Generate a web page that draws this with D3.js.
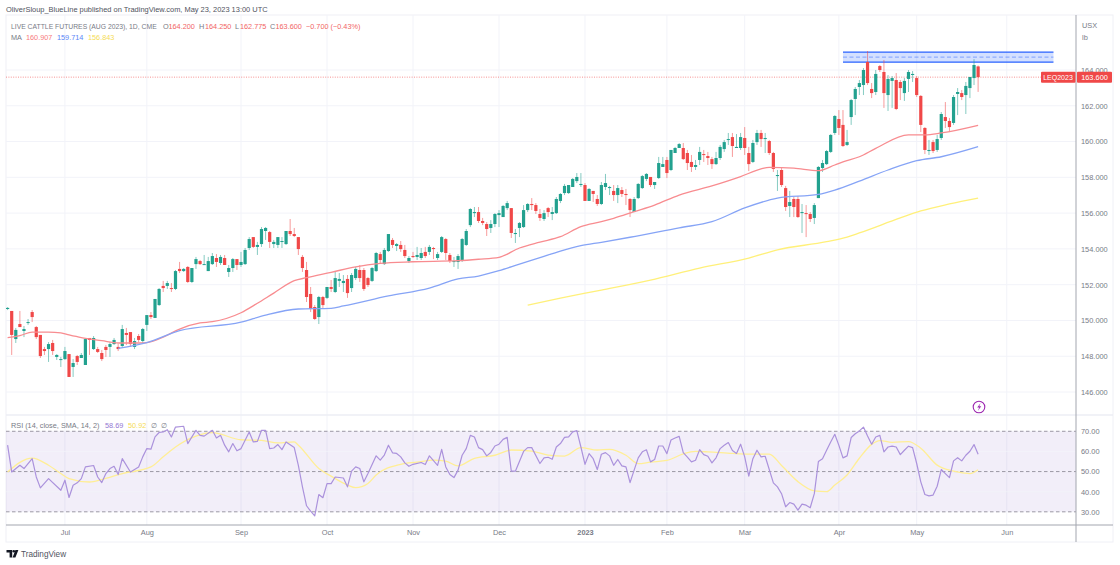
<!DOCTYPE html>
<html>
<head>
<meta charset="utf-8">
<script src="https://cdn.jsdelivr.net/npm/d3@7"></script>
<style>
  html, body { margin: 0; padding: 0; background: #fff; overflow: hidden; }
  svg { display: block; font-family: "Liberation Sans", sans-serif; }
  .axis path, .axis line { display: none; }
  .axis text { fill: #787b86; font-size: 7.4px; font-family: "Liberation Sans", sans-serif; }
</style>
</head>
<body>
<svg id="svg-container"></svg>
<script>
const opens = [
  150.64,150.53,148.96,149.80,149.41,149.86,150.47,149.63,149.19,148.40,
  148.40,148.74,147.96,147.79,147.84,148.12,147.40,148.01,147.90,147.51,
  149.02,148.40,148.40,148.18,148.52,148.52,148.68,148.52,148.57,149.30,
  149.35,148.52,149.13,148.85,149.75,150.30,150.14,150.86,151.93,151.93,
  151.81,151.76,152.88,152.76,152.99,152.15,153.15,153.32,153.10,152.76,
  153.15,153.49,153.21,153.49,152.71,152.93,153.43,153.10,153.15,154.05,
  154.66,154.11,154.27,155.00,154.94,154.27,154.22,154.39,154.27,155.00,
  154.83,154.66,153.55,152.82,151.48,150.75,150.19,151.31,151.26,151.87,
  151.59,152.21,152.09,152.32,151.81,152.37,152.82,152.82,152.37,152.21,
  152.76,153.71,153.15,153.88,154.50,154.16,154.22,153.94,153.32,153.60,
  153.55,153.49,153.83,153.83,154.05,153.49,153.83,154.55,153.66,153.27,
  153.27,153.38,154.22,155.33,156.00,156.06,155.56,155.39,155.17,155.39,
  155.89,155.78,156.28,156.28,154.83,155.17,155.22,156.17,156.51,156.45,
  155.95,155.67,156.28,155.95,156.00,156.68,157.12,157.12,157.46,157.79,
  157.57,157.57,156.68,157.24,156.79,156.51,157.46,157.40,157.24,157.01,
  157.29,157.07,156.79,156.06,156.84,157.40,157.91,158.02,157.57,157.96,
  158.58,158.97,158.41,159.36,159.64,159.64,159.36,158.86,158.58,158.97,
  159.30,159.19,159.02,158.74,159.08,159.58,160.09,160.25,159.64,159.64,
  160.20,159.36,158.86,159.97,160.48,160.14,160.03,159.36,158.07,158.41,
  157.40,156.40,156.79,156.79,156.00,156.00,155.95,155.73,156.84,158.52,
  158.74,159.42,160.48,161.26,160.93,159.81,161.37,162.38,163.05,163.16,
  164.45,162.94,162.77,164.22,163.89,162.60,163.39,163.44,163.33,162.71,
  163.50,163.72,163.55,162.55,160.76,159.47,159.97,159.53,160.20,161.37,
  161.15,161.04,162.66,162.71,162.60,162.99,163.55,164.20
];
const highs = [
  150.75,150.53,149.58,150.53,149.69,150.08,150.58,149.69,149.19,148.52,
  148.79,148.91,148.12,147.96,148.52,148.12,147.84,148.07,148.18,148.96,
  149.02,149.13,148.52,148.35,148.63,148.79,149.02,148.68,149.75,149.58,
  149.35,149.02,149.24,149.58,150.30,150.47,151.20,151.81,152.21,152.21,
  152.09,152.82,153.27,152.93,153.04,152.93,153.55,153.38,153.66,153.55,
  153.77,153.71,153.66,153.66,153.10,153.49,153.43,153.83,154.05,154.66,
  154.66,154.39,155.22,155.22,155.00,154.50,154.66,154.66,155.00,155.67,
  155.17,154.66,153.66,153.27,151.87,150.86,151.37,151.37,151.87,152.26,
  152.71,152.65,152.54,152.54,152.65,152.99,153.10,152.93,152.43,152.99,
  153.83,153.83,154.05,154.83,154.61,154.33,154.44,154.22,153.60,153.83,
  154.11,154.05,154.11,154.22,154.11,153.83,154.72,154.61,153.77,153.55,
  153.71,154.61,155.11,156.28,156.34,156.34,155.73,155.50,155.61,156.00,
  156.17,156.45,156.68,156.28,155.11,155.50,156.45,156.56,156.84,156.56,
  156.23,156.17,156.34,156.34,156.90,157.12,157.63,157.57,157.96,158.24,
  158.24,157.68,157.40,157.24,157.01,157.74,158.19,157.52,157.57,157.57,
  157.46,157.35,156.84,156.90,157.68,158.13,158.24,158.02,157.74,159.14,
  159.14,159.14,159.53,159.70,159.92,159.92,159.53,159.25,158.97,159.70,
  159.53,159.42,159.14,159.42,159.81,160.09,160.48,160.48,160.42,160.48,
  160.81,159.70,160.09,160.65,160.65,160.48,160.09,159.42,158.41,158.52,
  157.52,157.24,156.90,156.96,156.51,156.45,156.06,156.56,158.63,158.97,
  159.53,160.42,161.48,161.76,161.76,160.65,162.38,163.05,163.44,164.11,
  165.06,163.27,164.00,164.28,164.56,163.72,163.66,163.83,163.44,163.55,
  164.00,163.94,163.66,162.60,160.81,160.09,160.09,160.37,161.65,162.21,
  161.32,162.60,162.99,162.88,163.33,163.61,164.61,164.25
];
const lows = [
  150.58,148.07,148.74,149.63,149.07,149.75,149.91,148.96,147.90,148.07,
  147.68,148.07,147.79,147.40,147.79,146.84,146.84,147.51,147.90,147.51,
  148.07,148.35,148.18,147.73,147.96,147.96,148.63,148.29,148.52,148.63,
  148.52,148.40,148.79,148.74,149.41,150.08,150.14,150.81,151.59,151.76,
  151.59,151.70,152.65,152.71,152.09,152.09,152.88,153.10,153.10,152.76,
  153.10,152.99,153.10,153.10,152.43,152.71,152.82,152.99,153.10,153.94,
  154.05,153.66,154.11,154.50,154.05,154.05,154.05,154.05,154.22,154.72,
  154.66,153.66,152.71,151.03,150.47,150.03,149.80,150.70,151.20,151.59,
  151.53,151.87,151.59,151.26,151.59,152.26,152.15,151.65,151.87,152.15,
  152.71,153.21,153.10,153.83,154.05,153.88,153.83,153.49,153.21,153.49,
  153.38,153.38,153.49,153.66,153.43,153.38,153.77,153.38,153.21,152.99,
  152.88,153.27,154.16,155.22,155.78,155.45,155.33,154.72,154.89,155.22,
  155.22,155.78,156.17,154.61,154.33,154.66,155.17,156.06,156.17,155.95,
  155.56,155.56,155.78,155.61,155.95,156.56,157.01,157.07,157.46,157.68,
  157.46,156.68,156.68,156.62,156.40,156.45,157.29,157.01,156.68,156.56,
  156.90,156.45,155.78,156.06,156.79,157.35,157.79,157.46,157.35,157.91,
  158.58,157.96,158.35,159.36,159.64,158.97,158.41,158.30,158.41,158.69,
  158.86,158.69,158.47,158.69,158.97,159.42,159.81,159.14,159.64,159.53,
  159.25,158.35,158.80,159.81,159.70,159.36,159.25,158.30,157.24,157.46,
  156.12,155.78,155.78,155.73,154.89,154.66,155.50,155.39,156.84,158.30,
  158.69,159.36,160.37,160.37,159.70,159.75,160.93,161.48,162.60,162.60,
  163.16,162.43,162.60,163.89,161.88,161.71,161.88,161.76,162.32,162.27,
  162.77,163.33,162.49,160.53,159.30,159.25,159.36,159.42,160.09,160.76,
  160.53,160.93,161.48,162.32,161.54,162.43,163.16,162.775
];
const closes = [
  150.70,149.19,149.47,149.63,149.52,149.91,150.19,149.07,148.01,148.29,
  148.68,148.29,148.07,147.84,148.29,146.84,147.62,147.68,148.07,148.96,
  148.91,149.02,148.24,147.84,148.35,148.68,148.91,148.40,149.52,149.19,
  148.68,148.85,148.91,149.52,150.30,150.19,151.20,151.76,151.81,152.09,
  151.76,152.76,152.76,152.88,152.15,152.93,153.43,153.15,153.15,153.32,
  153.60,153.27,153.55,153.10,152.93,153.43,153.10,153.27,153.94,154.55,
  154.11,154.22,155.11,155.17,154.39,154.39,154.66,154.44,155.00,154.83,
  154.72,153.99,152.93,151.31,150.64,150.08,151.31,150.86,151.87,151.76,
  152.37,152.32,152.21,151.53,152.54,152.88,152.37,151.76,151.98,152.93,
  153.77,153.38,153.94,154.83,154.22,154.27,153.99,153.60,153.49,153.55,
  153.66,153.77,153.60,154.11,153.99,153.71,154.66,153.77,153.32,153.32,
  153.60,154.55,155.00,156.23,156.06,155.56,155.45,155.11,155.39,155.95,
  156.00,156.40,156.56,154.89,154.89,155.45,156.17,156.51,156.45,156.12,
  155.73,156.00,156.06,156.06,156.79,157.07,157.52,157.57,157.91,158.02,
  157.63,156.68,157.35,157.07,156.51,157.57,157.68,157.46,157.01,157.40,
  157.07,157.01,156.17,156.79,157.63,158.07,158.19,157.57,157.74,158.80,
  158.74,158.24,159.53,159.64,159.86,159.02,158.80,158.58,158.69,159.42,
  159.25,159.08,158.74,159.08,159.70,159.97,160.14,159.75,159.70,160.25,
  159.64,158.74,159.92,160.48,160.14,160.20,159.36,158.47,158.13,157.57,
  156.34,156.62,156.34,155.78,156.06,155.95,155.67,156.45,158.58,158.80,
  159.47,160.37,161.43,160.76,159.75,159.97,162.32,162.94,163.27,164.00,
  163.27,162.71,163.78,164.00,162.71,163.50,163.55,161.82,162.99,163.39,
  163.89,163.78,162.60,160.93,159.53,159.53,159.47,160.14,161.54,161.15,
  160.81,162.49,162.77,162.49,163.11,163.61,164.28,163.60
];

const ma50Bars = [0,3,6,10,13,15,18,23,27,32,34,38,42,47,50,57,61,65,70,73,79,85,91,99,110,115,120,125,130,135,140,145,148,153,158,164,172,179,184,186,192,198,202,204,208,212,220,224,228,237];
const ma50 = [149.04,149.15,149.35,149.35,149.30,149.19,149.04,148.87,148.74,148.74,148.76,149.07,149.52,149.86,149.93,150.43,150.96,151.53,152.22,152.39,152.69,153.00,153.19,153.28,153.34,153.42,153.53,154.05,154.38,154.68,155.24,155.52,155.71,156.08,156.45,157.01,157.52,158.04,158.47,158.56,158.51,158.37,158.69,158.87,159.15,159.62,160.37,160.37,160.48,160.91];
const ma100Bars = [27,34,42,57,63,71,79,82,93,103,110,115,120,125,130,135,140,145,152,164,172,180,188,198,202,208,215,222,228,237];
const ma100 = [148.44,148.76,149.43,149.90,150.30,150.64,150.68,150.81,151.37,151.81,152.32,152.48,152.78,153.15,153.51,153.88,154.18,154.37,154.65,155.18,155.52,156.29,156.84,157.05,157.29,157.79,158.41,158.93,159.15,159.71];
const ma200Bars = [127,135,145,157,169,181,188,200,205,208,218,223,230,237];
const ma200 = [150.86,151.25,151.70,152.26,152.93,153.49,153.95,154.40,154.66,154.89,155.73,156.12,156.51,156.84];

const rsiBars = [0,1,3,4,6,7,8,10,13,14,15,16,17,18,19,21,22,23,24,25,26,27,28,30,32,33,34,35,36,37,38,39,40,41,43,44,46,47,48,50,51,52,53,54,55,56,57,59,60,61,62,63,64,65,66,67,68,70,71,72,73,74,75,76,77,78,79,80,82,83,84,85,86,87,88,90,91,92,93,94,95,96,97,98,99,101,102,103,105,106,107,108,109,110,111,112,113,114,115,116,117,118,119,120,121,122,123,124,126,127,128,130,131,132,133,134,135,136,137,138,139,140,141,142,143,144,145,146,147,148,149,150,151,152,153,154,155,156,157,158,159,160,161,162,163,164,165,166,167,168,169,170,171,172,173,174,175,176,177,178,179,180,181,182,183,184,185,187,188,189,190,191,192,193,194,195,196,197,198,199,200,201,202,203,204,205,206,207,208,209,210,211,212,213,214,215,216,217,218,219,220,221,222,223,224,225,226,227,228,229,230,231,232,233,234,235,236,237];
const rsiValues = [63.1,49.8,53.1,51.5,56.4,47.3,41.9,46.5,40.7,45.7,37.1,43.2,44.4,46.5,52.3,53,47.3,44.5,49,51.5,52.6,48.5,56.4,49.8,52.3,57.3,61.4,61.1,67.2,69.4,69.7,70.8,67.2,72.1,72.5,63.9,70.5,68,67.6,70.5,66.7,68,63.1,59.8,63.9,60.3,61.4,69.7,64.7,65,70.5,70.5,61.4,61.7,63.4,60.9,64.7,61.9,53.1,42.4,33,30.3,28,38.6,37,44,44,47.3,46.8,42.4,50.2,52.3,51.5,44.9,49,57.8,55.7,58.2,63.1,59.3,59,57.3,54.3,52.6,53.6,54.5,53.5,57.8,53.1,61,52.3,48.5,47,50.7,58.1,61.4,68,67.2,61.9,60.9,57.8,59.5,62.7,63.6,66,67,50.2,50.2,60,61.9,61.9,54,56.8,57.1,56.1,62.2,63.9,67,67.2,69.7,70.3,62.2,53.6,58.9,56.4,51,58.6,59.4,57.8,53.1,56,52.8,52.3,44.5,50.7,56.8,59.8,60.8,54.8,56,62.7,62.7,58.9,65.7,66.7,67.5,59.4,57.2,54.8,55.6,60.9,58.4,57.6,54.3,56.8,61.4,63.1,64.4,60.5,59,63.6,57.3,47.7,56.4,60.6,57.3,57.6,44.4,42.4,39,32.5,34.6,33.8,30.8,33.8,33.3,32,39,55,56.4,60.6,64.7,68.5,63,56.8,57.8,66.9,68.8,70.2,72.1,67.7,63.6,67.2,68,59.8,62.2,62.6,62.2,58.4,60.6,62.6,61.9,54,44.9,38.6,37.9,38.3,42.7,51,49,47,55.3,56.9,55.3,58.1,60.1,63.4,58.6];
const rsiMaBars = [0,6,10,13,15,20,23,28,35,38,41,46,50,57,62,66,70,71,76,79,83,85,88,90,96,100,104,107,110,114,119,123,128,132,136,140,144,147,151,154,157,161,165,168,171,177,181,186,189,193,197,200,202,205,208,211,213,216,220,223,227,231,235,237];
const rsiMa = [49.8,56.7,53.1,49,46.5,44.8,46,49,52.3,57.3,62.2,67.6,69.3,65.8,65.5,64.2,64.7,63.1,51.5,47.7,43.3,42,44.1,48.3,53.6,54.7,55.7,55.2,52.8,56.6,58.1,60.7,60.2,58.2,57.7,61.9,60.7,61,58.1,53.9,54.7,55.5,58.8,60,59.8,59,58.7,58.7,53,45,40.4,40,43.3,48.3,56.6,63.5,65.4,64.5,64.9,61.6,53.2,50.2,49,50.9];

const priceTicks = [164,162,160,158,156,154,152,150,148,146];
const rsiTicks = [70,60,50,40,30];
const rsiLevels = [70,50,30];
const monthBars = [14,34,57,78,99,120,141,161,180,203,222,244];
const monthLabels = ["Jul","Aug","Sep","Oct","Nov","Dec","2023","Feb","Mar","Apr","May","Jun"];

const lastClose = 163.6;
const zoneTop = 165.0;
const zoneBottom = 164.44;
const zoneBars = [204, 255.4];

document.addEventListener("DOMContentLoaded", function () {
    const width = 1120;
    const height = 565;
    const left = 6;
    const axisX = 1076;
    const rightEdge = 1113;
    const top = 15;
    const paneSplit = 415;
    const timeAxisY = 525;
    const bottom = 542;

    const up = "#22a18f";
    const down = "#f04848";
    const textGrey = "#787b86";
    const gridColor = "#f2f3f9";
    const fontPx = 7.4;

    const svg = d3.select('#svg-container')
        .attr('width', width)
        .attr('height', height);

    const xScale = d3.scaleLinear().domain([0, 261]).range([7.6, 7.6 + 261 * 4.095]);
    const yScale = d3.scaleLinear().domain([164, 146]).range([70, 392]);
    const rsiScale = d3.scaleLinear().domain([70, 30]).range([431.3, 511.8]);

    // frame
    svg.append('rect').attr('x', left).attr('y', top).attr('width', rightEdge - left).attr('height', bottom - top)
        .attr('fill', 'none').attr('stroke', '#eff0f6');

    svg.append('g').selectAll('line').data(monthBars).join('line')
        .attr('x1', d => xScale(d)).attr('x2', d => xScale(d))
        .attr('y1', top).attr('y2', timeAxisY)
        .attr('stroke', gridColor);
    svg.append('g').selectAll('line').data(priceTicks).join('line')
        .attr('x1', left).attr('x2', axisX)
        .attr('y1', d => yScale(d)).attr('y2', d => yScale(d))
        .attr('stroke', gridColor);

    // zone
    const zone = svg.append('g');
    zone.append('rect')
        .attr('x', xScale(zoneBars[0])).attr('width', xScale(zoneBars[1]) - xScale(zoneBars[0]))
        .attr('y', yScale(zoneTop)).attr('height', yScale(zoneBottom) - yScale(zoneTop))
        .attr('fill', '#2962ff').attr('opacity', 0.2);
    [zoneTop, zoneBottom].forEach(p => {
        zone.append('line')
            .attr('x1', xScale(zoneBars[0])).attr('x2', xScale(zoneBars[1]))
            .attr('y1', yScale(p)).attr('y2', yScale(p))
            .attr('stroke', '#2962ff').attr('stroke-width', 1.3);
    });
    zone.append('line')
        .attr('x1', xScale(zoneBars[0])).attr('x2', xScale(zoneBars[1]))
        .attr('y1', yScale((zoneTop + zoneBottom) / 2)).attr('y2', yScale((zoneTop + zoneBottom) / 2))
        .attr('stroke', '#2962ff').attr('stroke-opacity', 0.5).attr('stroke-dasharray', '4 2.5');

    // last price line
    svg.append('line')
        .attr('x1', left).attr('x2', axisX)
        .attr('y1', yScale(lastClose)).attr('y2', yScale(lastClose))
        .attr('stroke', down).attr('stroke-opacity', 0.6).attr('stroke-dasharray', '1 1.4');

    // candles
    const candles = svg.append('g').selectAll('g').data(opens).join('g');
    candles.append('line')
        .attr('x1', (d, i) => xScale(i)).attr('x2', (d, i) => xScale(i))
        .attr('y1', (d, i) => yScale(highs[i])).attr('y2', (d, i) => yScale(lows[i]))
        .attr('stroke', (d, i) => closes[i] >= d ? up : down)
        .attr('stroke-opacity', 0.55);
    candles.append('rect')
        .attr('x', (d, i) => xScale(i) - 1.6)
        .attr('width', 3.2)
        .attr('y', (d, i) => yScale(Math.max(d, closes[i])))
        .attr('height', (d, i) => Math.max(1, Math.abs(yScale(d) - yScale(closes[i]))))
        .attr('fill', (d, i) => closes[i] >= d ? up : down);

    // moving averages
    function drawLine(bars, values, scale, color, widthPx, curve) {
        const line = d3.line().x(d => xScale(d[0])).y(d => scale(d[1])).curve(curve || d3.curveLinear);
        svg.append('path')
            .attr('d', line(bars.map((b, i) => [b, values[i]])))
            .attr('fill', 'none').attr('stroke', color)
            .attr('stroke-width', widthPx).attr('stroke-linejoin', 'round');
    }
    drawLine(ma50Bars, ma50, yScale, '#f88c90', 1.3, d3.curveMonotoneX);
    drawLine(ma100Bars, ma100, yScale, '#86a4f6', 1.3, d3.curveMonotoneX);
    drawLine(ma200Bars, ma200, yScale, '#fff07a', 1.3, d3.curveMonotoneX);

    // RSI pane
    svg.append('rect')
        .attr('x', left).attr('width', axisX - left)
        .attr('y', rsiScale(70)).attr('height', rsiScale(30) - rsiScale(70))
        .attr('fill', '#7e57c2').attr('opacity', 0.1);
    svg.append('g').selectAll('line').data(rsiTicks).join('line')
        .attr('x1', left).attr('x2', axisX)
        .attr('y1', d => rsiScale(d)).attr('y2', d => rsiScale(d))
        .attr('stroke', gridColor).attr('stroke-opacity', 0.7);
    svg.append('g').selectAll('line').data(rsiLevels).join('line')
        .attr('x1', left).attr('x2', axisX)
        .attr('y1', d => rsiScale(d)).attr('y2', d => rsiScale(d))
        .attr('stroke', '#8d8a96').attr('stroke-dasharray', '3.5 2.5').attr('stroke-opacity', 0.85);
    drawLine(rsiMaBars, rsiMa, rsiScale, '#ffee95', 1.3, d3.curveMonotoneX);
    drawLine(rsiBars, rsiValues, rsiScale, '#ab92dc', 1.2);

    // pane separators and axes
    svg.append('line').attr('x1', left).attr('x2', rightEdge).attr('y1', paneSplit).attr('y2', paneSplit).attr('stroke', '#eceef5').attr('stroke-width', 1.3);
    svg.append('line').attr('x1', left).attr('x2', rightEdge).attr('y1', timeAxisY).attr('y2', timeAxisY).attr('stroke', '#a3a6af');
    svg.append('line').attr('x1', axisX).attr('x2', axisX).attr('y1', top).attr('y2', bottom).attr('stroke', '#a3a6af');

    svg.append('g').attr('class', 'axis').attr('transform', `translate(${axisX}, 0)`)
        .call(d3.axisRight(yScale).tickValues(priceTicks).tickFormat(d3.format('.3f')).tickSize(0).tickPadding(5));
    svg.append('g').attr('class', 'axis').attr('transform', `translate(${axisX}, 0)`)
        .call(d3.axisRight(rsiScale).tickValues(rsiTicks).tickFormat(d3.format('.2f')).tickSize(0).tickPadding(5));
    const timeAxis = svg.append('g').attr('class', 'axis').attr('transform', `translate(0, ${timeAxisY})`)
        .call(d3.axisBottom(xScale).tickValues(monthBars).tickFormat((d, i) => monthLabels[i]).tickSize(0).tickPadding(5));
    timeAxis.selectAll('text').filter((d, i) => monthLabels[i] === '2023').attr('font-weight', 'bold');

    function label(x, y, str, color, size, anchor) {
        return svg.append('text').attr('x', x).attr('y', y).text(str)
            .attr('fill', color).attr('font-size', size || fontPx)
            .attr('text-anchor', anchor || 'start');
    }

    label(6, 11.5, 'OliverSloup_BlueLine published on TradingView.com, May 23, 2023 13:00 UTC', '#50535e', 7.45);
    label(1082, 28, 'USX', textGrey);
    label(1082, 40, 'lb', textGrey);

    label(11, 29, 'LIVE CATTLE FUTURES (AUG 2023), 1D, CME', textGrey, 6.8);
    [[163, 'O', textGrey], [168.5, '164.200', down], [199, 'H', textGrey], [205, '164.250', down],
     [235, 'L', textGrey], [240, '162.775', down], [270, 'C', textGrey], [275.5, '163.600', down],
     [306, '\u22120.700 (\u22120.43%)', down]].forEach(t => label(t[0], 29, t[1], t[2], 7.3).attr('opacity', t[2] === down ? 0.85 : 1));
    label(11, 39.5, 'MA', textGrey, 7.3);
    label(26, 39.5, '160.907', '#f77c80', 7.3);
    label(57, 39.5, '159.714', '#5b86f7', 7.3);
    label(88, 39.5, '156.843', '#f5dc55', 7.3);

    label(11, 427.5, 'RSI (14, close, SMA, 14, 2)', textGrey, 7.3);
    label(105, 427.5, '58.69', '#9478d2', 7.3);
    label(128, 427.5, '50.92', '#f5dc55', 7.3);
    label(151, 427.5, '\u2205', textGrey, 7.3);
    label(161, 427.5, '\u2205', textGrey, 7.3);

    // last price tags
    const tagY = yScale(lastClose);
    svg.append('rect').attr('x', 1041).attr('y', tagY - 5.5).attr('width', 34.5).attr('height', 11).attr('fill', down).attr('rx', 1);
    svg.append('rect').attr('x', 1077).attr('y', tagY - 5.5).attr('width', 35).attr('height', 11).attr('fill', down).attr('rx', 1);
    label(1058, tagY + 2.8, 'LEQ2023', '#fff', 7, 'middle');
    label(1094.5, tagY + 2.8, d3.format('.3f')(lastClose), '#fff', 7.4, 'middle');

    // dividend/earnings marker
    svg.append('circle').attr('cx', 979).attr('cy', 407).attr('r', 5.8)
        .attr('fill', '#fff').attr('stroke', '#9c27b0').attr('stroke-width', 1.1);
    svg.append('path').attr('d', 'M980.6 403 L977.2 407.5 L979.2 407.5 L977.8 411 L981.2 406.2 L979.2 406.2 Z').attr('fill', '#9c27b0');

    // footer logo and name
    svg.append('path').attr('d', 'M6.5 550 H12.2 V557.5 H9.6 V552.6 H6.5 Z M15.4 550 H18.4 L15.4 557.5 H12.6 Z').attr('fill', '#131722');
    svg.append('circle').attr('cx', 13.8).attr('cy', 551.3).attr('r', 1.3).attr('fill', '#131722');
    label(21, 557, 'TradingView', '#50535e', 8.2);
});
</script>
</body>
</html>
